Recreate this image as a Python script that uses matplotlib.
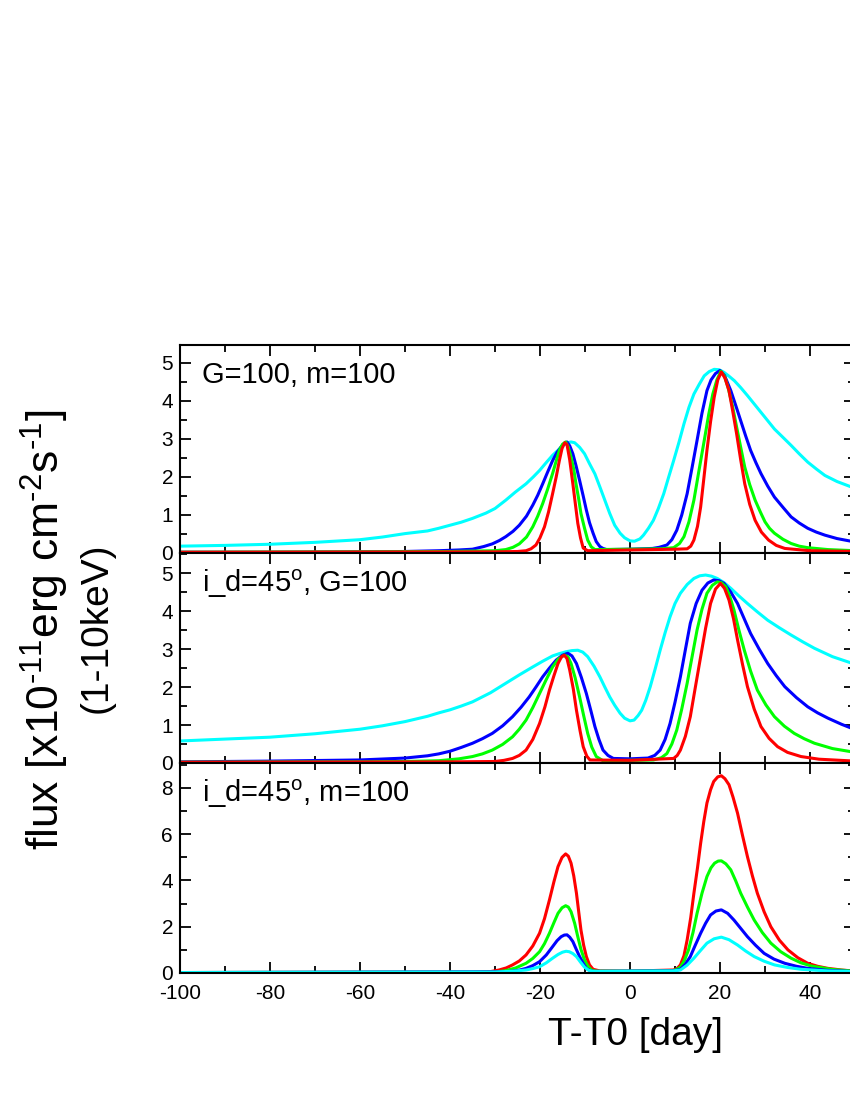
import matplotlib
matplotlib.use("Agg")
import matplotlib.pyplot as plt
from matplotlib.ticker import MultipleLocator

plt.rcParams["font.family"] = ["Liberation Sans", "DejaVu Sans"]
plt.rcParams["mathtext.fontset"] = "custom"
plt.rcParams["mathtext.rm"] = "Liberation Sans"
plt.rcParams["mathtext.it"] = "Liberation Sans:italic"
plt.rcParams["axes.unicode_minus"] = False

# ---- panel 1: G=100, m=100 ----
p1_cyan_t = [-100, -90, -80, -70, -60, -55, -50, -45, -42.5, -40, -37.5, -35, -32, -30, -27.6, -25.5, -23.1, -21.5,
             -20.1, -18.6, -17.2, -16.0, -14.9, -14.2, -13.1, -12.3, -11.2, -10.1, -9.0, -7.8, -6.7, -5.6, -4.5,
             -3.4, -2.2, -1.2, 0.0, 1.0, 2.2, 3.0, 4.1, 5.2, 6.3, 7.5, 8.6, 9.7, 10.9, 12.0, 13.1, 14.2, 15.4, 16.5,
             17.6, 18.7, 19.8, 20.9, 22.0, 23.2, 24.6, 26.1, 27.6, 29.1, 30.6, 32.1, 34, 35.8, 37.6, 39.5, 41.4,
             43.3, 46, 50]
p1_cyan_f = [0.18, 0.20, 0.23, 0.28, 0.35, 0.42, 0.51, 0.58, 0.65, 0.73, 0.81, 0.91, 1.05, 1.17, 1.39, 1.60, 1.82,
             2.00, 2.17, 2.38, 2.57, 2.70, 2.83, 2.89, 2.92, 2.90, 2.78, 2.61, 2.35, 2.08, 1.74, 1.39, 1.04, 0.73,
             0.52, 0.40, 0.32, 0.31, 0.37, 0.47, 0.65, 0.86, 1.17, 1.56, 2.00, 2.43, 2.92, 3.40, 3.83, 4.18, 4.44,
             4.66, 4.77, 4.83, 4.82, 4.75, 4.65, 4.53, 4.35, 4.14, 3.92, 3.70, 3.48, 3.26, 3.04, 2.83, 2.61, 2.39,
             2.21, 2.04, 1.88, 1.70]
p1_blue_t = [-100, -80, -60, -50, -42.5, -38, -35, -32.5, -30.6, -29, -27.6, -26, -24.6, -23, -21.6, -20.5, -19.4,
             -18.3, -17.2, -16.2, -15.3, -14.6, -14.0, -13.4, -12.7, -12.0, -11.2, -10.4, -9.7, -9.0, -8.2, -7.5,
             -6.7, -6.0, -5.2, 0, 5, 6.5, 8.2, 9.3, 10.4, 11.5, 12.7, 13.8, 14.9, 16.0, 17.1, 18.0, 19.0, 20.0,
             21.0, 22.4, 23.5, 24.6, 25.7, 26.8, 28, 29.1, 30.6, 32.1, 34, 35.8, 37.6, 39.5, 41.4, 43.3, 46, 50]
p1_blue_f = [0.02, 0.02, 0.03, 0.04, 0.06, 0.08, 0.10, 0.17, 0.24, 0.33, 0.43, 0.57, 0.73, 0.97, 1.26, 1.52, 1.82,
             2.13, 2.43, 2.65, 2.79, 2.88, 2.92, 2.82, 2.61, 2.30, 1.91, 1.50, 1.13, 0.80, 0.52, 0.30,
             0.17, 0.12, 0.09, 0.10, 0.12, 0.15, 0.21, 0.35, 0.60, 1.00, 1.56, 2.25, 2.96, 3.68, 4.27, 4.55, 4.72,
             4.80, 4.67, 4.27, 3.88, 3.48, 3.08, 2.70, 2.37, 2.09, 1.76, 1.47, 1.20, 0.95, 0.79, 0.65, 0.55, 0.47,
             0.38, 0.29]
p1_green_t = [-100, -60, -40, -30, -27.6, -26, -24.6, -23, -21.6, -20.5, -19.4, -18.3, -17.2, -16.4, -15.7, -15.0,
              -14.3, -13.7, -13.1, -12.5, -12.0, -11.4, -10.9, -10.1, -9.4, -8.6, -7.8, 0, 7, 9.7, 11, 12.0, 13.1,
              14.2, 15.3, 16.5, 17.5, 18.4, 19.3, 20.2, 21.0, 21.8, 22.8, 23.7, 24.6, 25.5, 26.6, 27.8, 29, 30.0,
              31, 32.1, 34, 35.8, 37.6, 39.5, 44, 50]
p1_green_f = [0.02, 0.03, 0.04, 0.06, 0.09, 0.15, 0.24, 0.42, 0.69, 0.97, 1.30, 1.68, 2.09, 2.42, 2.70, 2.86,
              2.92, 2.78, 2.52, 2.20, 1.82, 1.42, 1.04, 0.65, 0.34, 0.16, 0.09, 0.10, 0.11, 0.14, 0.25, 0.43, 0.82,
              1.39, 2.15, 2.96, 3.65, 4.18, 4.55, 4.78, 4.65, 4.35, 3.85, 3.31, 2.78, 2.26, 1.80, 1.39, 1.07, 0.82,
              0.65, 0.52, 0.36, 0.25, 0.18, 0.14, 0.09, 0.06]
p1_red_t = [-100, -30, -25, -23.1, -22, -20.9, -20, -19.0, -18.1, -17.2, -16.4, -15.7, -15.1, -14.5, -14.0, -13.4,
            -12.7, -12.1, -11.6, -11.0, -10.4, -9.4, 0, 10, 12.7, 13.5, 14.2, 15.0, 15.7, 16.4, 17.1, 17.9, 18.7,
            19.5, 20.3, 21.1, 22.0, 22.8, 23.7, 24.6, 25.5, 26.6, 27.8, 29.2, 30.8, 32.5, 34.4, 40, 50]
p1_red_f = [0.02, 0.03, 0.04, 0.06, 0.11, 0.21, 0.40, 0.69, 1.08, 1.56, 2.00, 2.43, 2.75, 2.90, 2.85, 2.45,
            1.82, 1.25, 0.78, 0.40, 0.13, 0.06, 0.08, 0.10, 0.11, 0.18, 0.34, 0.70, 1.21, 1.95, 2.70, 3.45, 4.09,
            4.55, 4.76, 4.60, 4.27, 3.75, 3.13, 2.45, 1.82, 1.28, 0.86, 0.55, 0.34, 0.20, 0.12, 0.06, 0.04]

# ---- panel 2: i_d=45, G=100 ----
p2_cyan_t = [-100, -90, -80, -70, -60, -55, -50, -45, -42.5, -40, -37.5, -35, -31, -27.6, -24.6, -21.6, -19.4,
             -17.2, -15.7, -14.2, -12.9, -11.6, -10.5, -9.4, -8.0, -6.7, -5.6, -4.5, -3.4, -2.2, -1.2, 0.0, 0.9,
             1.8, 2.6, 3.5, 4.5, 5.6, 6.7, 7.8, 8.9, 10.0, 11.2, 12.7, 14.2, 15.5, 16.8, 18.1, 19.4, 20.9, 22.4,
             24.2, 26.1, 28.3, 30.6, 33.2, 35.8, 38.4, 41.0, 45, 50]
p2_cyan_f = [0.58, 0.63, 0.68, 0.77, 0.89, 0.98, 1.09, 1.23, 1.32, 1.40, 1.50, 1.61, 1.85, 2.10, 2.32, 2.53, 2.68,
             2.82, 2.88, 2.93, 2.96, 2.97, 2.92, 2.80, 2.55, 2.27, 2.00, 1.74, 1.52, 1.31, 1.18, 1.11, 1.13,
             1.25, 1.39, 1.65, 2.01, 2.48, 2.97, 3.43, 3.85, 4.20, 4.47, 4.70, 4.86, 4.93, 4.95, 4.92, 4.86, 4.75,
             4.60, 4.40, 4.20, 3.98, 3.76, 3.56, 3.37, 3.19, 3.02, 2.80, 2.60]
p2_blue_t = [-100, -80, -60, -50, -45, -42.5, -40, -37.5, -35, -32.8, -30.6, -28.3, -26.1, -24.2, -22.4, -20.9,
             -19.4, -17.9, -16.4, -15.0, -13.8, -12.9, -11.9, -10.8, -9.7, -8.7, -7.8, -6.9, -6.0, -4.9, -3.7, 0,
             4, 5.5, 6.7, 7.8, 8.9, 10.0, 11.2, 12.3, 13.4, 14.7, 16.0, 17.3, 18.6, 19.8, 20.9, 22.4, 23.9, 25.3,
             26.8, 28.7, 30.6, 32.5, 34.4, 37, 39.5, 41.7, 44.0, 47, 50]
p2_blue_f = [0.03, 0.05, 0.08, 0.13, 0.19, 0.24, 0.31, 0.41, 0.52, 0.64, 0.78, 0.98, 1.22, 1.47, 1.74, 2.00,
             2.27, 2.50, 2.71, 2.84, 2.89, 2.82, 2.62, 2.25, 1.83, 1.38, 0.96, 0.62, 0.34, 0.20, 0.12, 0.11,
             0.13, 0.20, 0.34, 0.62, 1.04, 1.60, 2.27, 2.98, 3.68, 4.20, 4.55, 4.74, 4.82, 4.80, 4.73, 4.50, 4.20,
             3.82, 3.41, 3.00, 2.62, 2.30, 2.01, 1.72, 1.48, 1.32, 1.18, 1.02, 0.88]
p2_green_t = [-100, -60, -50, -42.5, -38, -35, -32.8, -30.6, -28.3, -26.1, -24.6, -23.1, -21.6, -20.1, -18.6, -17.2,
              -15.9, -14.6, -13.8, -13.1, -12.2, -11.2, -10.3, -9.4, -8.5, -7.5, -6.0, 0, 5.2, 7, 8.2, 9.3, 10.4,
              11.5, 12.7, 13.8, 14.9, 16.0, 17.1, 18.3, 19.4, 20.3, 21.3, 22.2, 23.1, 24.2, 25.4, 26.8, 28.3,
              30.2, 32.1, 34.3, 36.5, 38.7, 41.0, 45, 50]
p2_green_f = [0.02, 0.03, 0.04, 0.06, 0.11, 0.17, 0.24, 0.34, 0.49, 0.69, 0.89, 1.13, 1.46, 1.83, 2.20, 2.53,
              2.74, 2.84, 2.80, 2.62, 2.25, 1.74, 1.25, 0.78, 0.42, 0.17, 0.06, 0.07, 0.08, 0.14, 0.25, 0.50, 0.87,
              1.42, 2.10, 2.80, 3.50, 4.05, 4.47, 4.68, 4.77, 4.75, 4.64, 4.38, 4.03, 3.50, 2.97, 2.42, 1.92,
              1.53, 1.22, 0.97, 0.78, 0.64, 0.52, 0.38, 0.28]
p2_red_t = [-100, -40, -30, -28, -26.1, -24.6, -23.1, -21.6, -20.1, -18.9, -17.9, -16.9, -16.0, -15.2, -14.6, -14.0,
            -13.4, -12.6, -11.9, -11.1, -10.4, -9.6, -8.9, 0, 9.7, 10.5, 11.2, 12.3, 13.4, 14.5, 15.7, 16.8, 17.9,
            19.0, 20.1, 21.0, 22.0, 23.0, 23.9, 25.0, 26.1, 27.6, 29.1, 30.9, 32.8, 35, 38.0, 42, 50]
p2_red_f = [0.02, 0.03, 0.04, 0.07, 0.12, 0.20, 0.34, 0.62, 1.04, 1.48, 1.92, 2.30, 2.62, 2.80, 2.84, 2.75,
            2.45, 1.95, 1.39, 0.85, 0.43, 0.18, 0.08, 0.07, 0.12, 0.20, 0.34, 0.70, 1.22, 1.98, 2.80, 3.55, 4.20,
            4.58, 4.73, 4.60, 4.29, 3.80, 3.24, 2.60, 2.01, 1.42, 0.96, 0.65, 0.43, 0.28, 0.17, 0.10, 0.05]

# ---- panel 3: i_d=45, m=100 ----
p3_red_t = [-100, -35, -31, -29.1, -27.5, -26.1, -24.6, -23.1, -21.6, -20.1, -19.0, -17.9, -16.9, -16.0, -15.1,
            -14.3, -13.7, -13.1, -12.5, -11.9, -11.4, -10.9, -10.3, -9.7, -9.0, -8.2, -6.7, 0, 9.7, 10.5, 11.2,
            12.0, 12.7, 13.5, 14.2, 15.0, 15.7, 16.4, 17.1, 17.9, 18.6, 19.5, 20.3, 21.1, 22.0, 22.9, 23.9, 25.0,
            26.1, 27.2, 28.3, 29.8, 31.3, 33.2, 35.1, 37.3, 39.5, 41.7, 44.0, 47, 50]
p3_red_f = [0.02, 0.03, 0.06, 0.13, 0.22, 0.35, 0.52, 0.78, 1.17, 1.72, 2.35, 3.16, 3.95, 4.60, 5.00,
            5.15, 5.05, 4.75, 4.20, 3.45, 2.65, 1.86, 1.20, 0.71, 0.35, 0.16, 0.09, 0.08, 0.13, 0.20, 0.35,
            0.75, 1.43, 2.40, 3.45, 4.55, 5.61, 6.55, 7.35, 7.92, 8.28, 8.48, 8.53, 8.40, 8.14, 7.60, 6.91, 5.95,
            5.03, 4.20, 3.45, 2.65, 2.00, 1.42, 1.00, 0.66, 0.42, 0.29, 0.20, 0.13, 0.08]
p3_green_t = [-100, -30, -27.6, -25.4, -23.1, -21.6, -20.1, -19.0, -17.9, -16.9, -16.0, -15.1, -14.3, -13.7, -13.1,
              -12.3, -11.6, -10.9, -10.1, -9.3, -8.6, -7.5, 0, 9.5, 10.3, 11.2, 12.1, 13.0, 14.0, 14.9, 16.0, 17.1,
              18.0, 18.8, 19.6, 20.3, 21.3, 22.4, 23.5, 24.6, 26.1, 27.6, 29.4, 31.3, 33.5, 35.8, 38, 40.3, 45, 50]
p3_green_f = [0.02, 0.04, 0.10, 0.22, 0.42, 0.63, 0.92, 1.27, 1.72, 2.18, 2.58, 2.82, 2.91, 2.85, 2.65,
              2.15, 1.57, 1.02, 0.56, 0.28, 0.13, 0.08, 0.08, 0.10, 0.15, 0.25, 0.55, 1.00, 1.75, 2.58, 3.45, 4.17,
              4.55, 4.75, 4.84, 4.85, 4.72, 4.46, 3.98, 3.45, 2.85, 2.29, 1.75, 1.29, 0.92, 0.64, 0.44, 0.30, 0.15, 0.08]
p3_blue_t = [-100, -28, -26, -24.5, -23.1, -21.6, -20.1, -18.6, -17.2, -16.2, -15.3, -14.6, -14.0, -13.4, -12.7,
             -12.0, -11.2, -10.4, -9.7, -8.9, -8.2, 0, 9.5, 10.3, 11.2, 12.3, 13.4, 14.5, 15.7, 16.8, 17.9, 19.1,
             20.3, 21.7, 23.1, 24.6, 26.1, 27.9, 29.8, 32, 34.4, 37, 39.5, 44, 50]
p3_blue_f = [0.02, 0.05, 0.08, 0.13, 0.20, 0.32, 0.49, 0.78, 1.14, 1.40, 1.57, 1.64, 1.65, 1.55, 1.36,
             1.05, 0.71, 0.42, 0.20, 0.11, 0.07, 0.08, 0.09, 0.12, 0.16, 0.38, 0.71, 1.20, 1.72, 2.15, 2.51, 2.68,
             2.73, 2.58, 2.29, 1.93, 1.57, 1.20, 0.85, 0.60, 0.42, 0.29, 0.20, 0.11, 0.06]
p3_cyan_t = [-100, -30, -26, -23.1, -21.6, -20.1, -18.6, -17.2, -16.0, -15.0, -14.2, -13.5, -12.7, -11.9, -11.0,
             -10.1, -9.2, -8.2, 0, 9.5, 11.2, 12.7, 14.2, 15.7, 17.1, 18.7, 20.3, 22.0, 23.9, 25.7, 27.6, 29.8,
             32.1, 35, 38.0, 44, 50]
p3_cyan_f = [0.02, 0.04, 0.08, 0.13, 0.19, 0.27, 0.44, 0.64, 0.80, 0.90, 0.94, 0.92, 0.84, 0.71, 0.47,
             0.25, 0.12, 0.07, 0.08, 0.09, 0.13, 0.34, 0.64, 0.98, 1.29, 1.48, 1.55, 1.44, 1.21, 0.95, 0.71, 0.51,
             0.35, 0.24, 0.16, 0.09, 0.06]

labels = ["G=100, m=100", r"i_d=45$^\mathrm{o}$, G=100", r"i_d=45$^\mathrm{o}$, m=100"]
ylims = [(0, 5.47), (0, 5.53), (0, 9.08)]
ysteps = [1, 1, 2]

curves = [
    [(p1_cyan_t, p1_cyan_f, "#00ffff"), (p1_blue_t, p1_blue_f, "#0000ff"),
     (p1_green_t, p1_green_f, "#00ff00"), (p1_red_t, p1_red_f, "#ff0000")],
    [(p2_cyan_t, p2_cyan_f, "#00ffff"), (p2_blue_t, p2_blue_f, "#0000ff"),
     (p2_green_t, p2_green_f, "#00ff00"), (p2_red_t, p2_red_f, "#ff0000")],
    [(p3_red_t, p3_red_f, "#ff0000"), (p3_green_t, p3_green_f, "#00ff00"),
     (p3_blue_t, p3_blue_f, "#0000ff"), (p3_cyan_t, p3_cyan_f, "#00ffff")],
]

W, H = 850, 1100
fig = plt.figure(figsize=(W / 100, H / 100), dpi=100)

# panel boxes in pixels: top, bottom (axes run past right edge of figure)
boxes = [(345, 553), (553, 763), (763, 973)]
left_px, width_px = 180, 675

for i, (top, bot) in enumerate(boxes):
    ax = fig.add_axes([left_px / W, (H - bot) / H, width_px / W, (bot - top) / H])
    for t, f, c in curves[i]:
        ax.plot(t, f, color=c, lw=2.2, solid_joinstyle="round", solid_capstyle="round")
    ax.set_xlim(-100, 50)
    ax.set_ylim(*ylims[i])
    ax.xaxis.set_major_locator(MultipleLocator(20))
    ax.xaxis.set_minor_locator(MultipleLocator(10))
    ax.yaxis.set_major_locator(MultipleLocator(ysteps[i]))
    ax.yaxis.set_minor_locator(MultipleLocator(ysteps[i] / 2))
    ax.tick_params(which="both", direction="in", top=True, right=True, width=1.3,
                   labelsize=15, pad=5)
    ax.tick_params(which="major", length=8)
    ax.tick_params(which="minor", length=5)
    for s in ax.spines.values():
        s.set_linewidth(1.5)
    if i < 2:
        ax.tick_params(labelbottom=False)
    else:
        ax.tick_params(axis="x", pad=8)
    ax.text(0.033, 0.815, labels[i], transform=ax.transAxes, fontsize=21,
            ha="left", va="baseline")

fig.text(45 / W, 1 - 630 / H, r"flux [x10$^{\text{-11}}$erg cm$^{\text{-2}}$s$^{\text{-1}}$]",
         rotation=90, ha="center", va="center", fontsize=32)
fig.text(97 / W, 1 - 628 / H, "(1-10keV)", rotation=90, ha="center", va="center", fontsize=28)
fig.text(635 / W, 1 - 1035 / H, "T-T0 [day]", ha="center", va="center", fontsize=28)

fig.savefig("out.png", dpi=100)
plt.close(fig)
